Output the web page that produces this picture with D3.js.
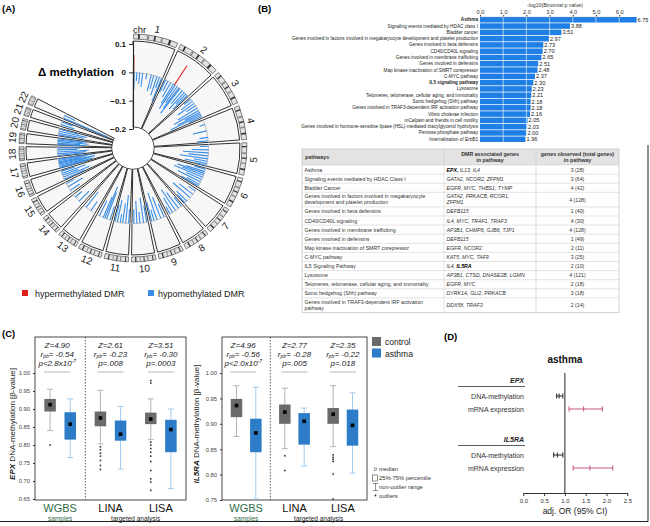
<!DOCTYPE html>
<html>
<head>
<meta charset="utf-8">
<title>DMR figure</title>
<script src="https://cdn.jsdelivr.net/npm/d3@7"></script>
<style>
  body { margin: 0; background: #fff; }
  svg { font-family: "Liberation Sans", Arial, sans-serif; display: block; }
  .tick line { stroke: #333; }
</style>
</head>
<body>
<script>
// ---------- data: panel A (circos) ----------
var chrNames   = ['1','2','3','4','5','6','7','8','9','10','11','12','13','14','15','16','17','18','19','20','21','22'];
var chrLengths = [249,243,198,191,181,171,159,146,141,136,135,134,115,107,103,90,81,78,59,63,48,51];
var circTicks  = [0.1, 0, -0.1, -0.2];
// ideogram dark bands, as fraction of chromosome length
var ideoBandStart = [0.10, 0.30, 0.46, 0.62, 0.80];
var ideoBandEnd   = [0.14, 0.35, 0.50, 0.66, 0.85];

// DMRs: chromosome, position (Mb), delta methylation
var dmrChr = [1,1,1,1,1,1,1,1,1,1,1,1,
  2,2,2,2,2,2,2,2,2,2,2,2,2,
  3,3,3,3,3,3,3,3,3,3,
  4,4,4,4,
  5,5,5,5,5,5,5,5,
  6,6,6,6,6,6,6,6,6,
  7,7,7,7,7,
  8,8,8,8,8,
  9,9,9,9,9,
  10,10,10,10,10,
  11,11,11,11,11,11,
  12,12,12,12,12,
  13,13, 14,14, 15,15,15,
  16,16,16,16,16,
  17,17,17,17,17,17,17,17,
  18,18,18,18,18,
  19,19,19,19,19,
  20,20,20,20,
  21,21, 22,22];
var dmrPos = [3,2,6,28,52,78,112,150,172,200,221,240,
  94,10,32,58,84,100,120,138,150,175,198,215,232,
  12,35,58,80,105,128,145,160,172,185,
  40,95,150,178,
  15,45,70,95,120,140,160,175,
  10,30,45,62,80,100,122,145,160,
  20,55,90,130,150,
  15,45,75,105,130,
  20,50,85,110,130,
  12,40,70,95,120,
  10,35,60,80,105,125,
  15,45,60,75,110,
  40,90, 35,80, 25,60,90,
  10,28,45,62,80,
  5,15,25,35,45,55,65,75,
  8,22,38,55,70,
  5,15,28,40,52,
  8,22,38,55,
  15,38, 8,30];
var dmrDelta = [0.06,-0.05,-0.06,-0.03,-0.04,-0.05,-0.02,-0.06,-0.05,-0.07,-0.04,-0.09,
  0.08,-0.05,-0.04,-0.06,-0.08,-0.10,-0.07,-0.09,-0.11,-0.06,-0.08,-0.05,-0.07,
  -0.03,-0.05,-0.07,-0.04,-0.08,-0.10,-0.06,-0.09,-0.12,-0.05,
  -0.02,-0.05,-0.03,-0.04,
  -0.03,-0.06,-0.09,-0.07,-0.10,-0.05,-0.08,-0.04,
  -0.04,-0.07,-0.10,-0.08,-0.11,-0.06,-0.09,-0.05,-0.07,
  -0.03,-0.06,-0.08,-0.05,-0.04,
  -0.04,-0.07,-0.09,-0.06,-0.03,
  -0.05,-0.08,-0.10,-0.04,-0.07,
  -0.06,-0.09,-0.04,-0.08,-0.05,
  -0.05,-0.10,-0.07,-0.03,-0.08,-0.06,
  -0.05,-0.10,-0.12,-0.08,-0.06,
  -0.04,-0.07, -0.05,-0.03, -0.04,-0.06,-0.03,
  -0.08,-0.10,-0.06,-0.09,-0.05,
  -0.10,-0.12,-0.09,-0.11,-0.13,-0.08,-0.10,-0.12,
  -0.09,-0.10,-0.11,-0.07,-0.08,
  -0.10,-0.08,-0.11,-0.09,-0.10,
  -0.06,-0.09,-0.10,-0.07,
  -0.05,-0.04, -0.17,-0.04];

// ---------- data: panel B ----------
var pathways = [
  'Asthma',
  'Signaling events mediated by HDAC class I',
  'Bladder cancer',
  'Genes involved in factors involved in megakaryocyte development and platelet production',
  'Genes involved in beta defensins',
  'CD40/CD40L signaling',
  'Genes involved in membrane trafficking',
  'Genes involved in defensins',
  'Map kinase inactivation of SMRT corepressor',
  'C-MYC pathway',
  'IL5 signaling pathway',
  'Lysosome',
  'Telomeres, telomerase, cellular aging, and immortality',
  'Sonic hedgehog (Shh) pathway',
  'Genes involved in TRAF3-dependent IRF activation pathway',
  'Vibrio cholerae infection',
  'mCalpain and friends in cell motility',
  'Genes involved in hormone-sensitive lipase (HSL)-mediated triacylglycerol hydrolysis',
  'Pentose phosphate pathway',
  'Internalization of ErbB1'
];
var pathwayLogP = [6.75,3.88,3.51,2.97,2.73,2.70,2.65,2.51,2.48,2.37,2.30,2.23,2.21,2.18,2.18,2.16,2.05,2.03,2.00,1.96];
var boldPathways = ['Asthma', 'IL5 signaling pathway'];
var logPTicks = [0,1,2,3,4,5,6];

var tablePathways = [
  'Asthma',
  'Signaling events mediated by HDAC Class I',
  'Bladder Cancer',
  'Genes involved in factors involved in megakaryocyte|development and platelet production',
  'Genes involved in beta defensins',
  'CD40/CD40L signaling',
  'Genes involved in membrane trafficking',
  'Genes involved in defensins',
  'Map kinase inactivation of SMRT corepressor',
  'C-MYC pathway',
  'IL5 Signaling Pathway',
  'Lysosome',
  'Telomeres, telomerase, cellular aging, and immortality',
  'Sonic hedgehog (Shh) pathway',
  'Genes involved in TRAF3-dependent IRF activation|pathway'
];
var tableGenes = [
  'EPX, IL13, IL4',
  'GATA2, NCOR2, ZFPM1',
  'EGFR, MYC, THBS1, TYMP',
  'GATA2, PRKACB, RCOR1,|ZFPM1',
  'DEFB115',
  'IL4, MYC, TRAF1, TRAF3',
  'AP3B1, CHMP6, GJB6, TJP1',
  'DEFB115',
  'EGFR, NCOR2',
  'KAT5, MYC, TAF9',
  'IL4, IL5RA',
  'AP3B1, CTSD, DNASE2B, LGMN',
  'EGFR, MYC',
  'DYRK1A, GLI2, PRKACB',
  'DDX58, TRAF3'
];
var tableCounts = ['3 (28)','3 (64)','4 (42)','4 (128)','1 (40)','4 (30)','4 (128)','1 (49)','2 (11)','3 (25)','2 (10)','4 (121)','2 (18)','3 (18)','2 (14)'];
var boldGenes = ['EPX', 'IL5RA'];

// ---------- data: panel C (box plots) ----------
var cohorts = ['WGBS', 'LINA', 'LISA'];
var statuses = ['control', 'asthma'];
// order: WGBS control, WGBS asthma, LINA control, LINA asthma, LISA control, LISA asthma
var epxLow  = [0.840, 0.765, 0.803, 0.733, 0.815, 0.679];
var epxQ1   = [0.893, 0.815, 0.852, 0.812, 0.858, 0.780];
var epxMed  = [0.912, 0.858, 0.875, 0.830, 0.872, 0.843];
var epxQ3   = [0.928, 0.891, 0.893, 0.868, 0.890, 0.870];
var epxHigh = [0.955, 0.928, 0.952, 0.907, 0.928, 0.900];
var epxOut  = [[0.800], [], [0.795,0.787,0.777,0.769,0.757,0.743,0.732], [],
               [0.979,0.972,0.808,0.800,0.790,0.780,0.769,0.754,0.729,0.706,0.697,0.674], []];
var epxTicks = [0.65,0.70,0.75,0.80,0.85,0.90,0.95,1.00];
var epxZ = ['4.90','2.61','3.51'];
var epxR = ['-0.54','-0.23','-0.30'];
var epxP = ['<2.8x10', '=.008', '=.0003'];
var epxPExp = ['-7', '', ''];

var il5Low  = [0.875, 0.752, 0.851, 0.817, 0.855, 0.803];
var il5Q1   = [0.913, 0.844, 0.900, 0.859, 0.900, 0.857];
var il5Med  = [0.936, 0.882, 0.923, 0.905, 0.919, 0.897];
var il5Q3   = [0.949, 0.910, 0.938, 0.921, 0.931, 0.928];
var il5High = [0.975, 0.972, 0.970, 0.931, 0.975, 0.961];
var il5Out  = [[], [], [0.837,0.808], [], [0.839,0.834,0.830,0.826,0.801,0.752], []];
var il5Ticks = [0.75,0.80,0.85,0.90,0.95,1.00];
var il5Z = ['4.96','2.77','2.35'];
var il5R = ['-0.56','-0.28','-0.22'];
var il5P = ['<2.0x10', '=.005', '=.018'];
var il5PExp = ['-7', '', ''];

// ---------- data: panel D (odds ratios) ----------
var orGenes = ['EPX', 'IL5RA'];
var orMeasures = ['DNA-methylation', 'mRNA expression'];
var orEst = [0.86, 1.45, 0.82, 1.60];
var orLo  = [0.80, 1.10, 0.73, 1.20];
var orHi  = [0.95, 1.90, 0.95, 2.15];
var orTicks = [0, 0.5, 1.0, 1.5, 2.0, 2.5];

var blueDMR = '#3a8de4', redDMR = '#e0201e';
var ctrlCol = '#6a6a6a', asthCol = '#2c7cc8';
var ctrlWh = '#b4b4b4', asthWh = '#a3cbee';

var svg = d3.select('body').append('svg').attr('width', 650).attr('height', 526);

function panelLabel(t, x, y) {
  svg.append('text').attr('x', x).attr('y', y).attr('font-size', 9.5)
    .attr('font-weight', 'bold').text(t);
}
panelLabel('(A)', 2, 12);
panelLabel('(B)', 258, 12);
panelLabel('(C)', 2, 337);
panelLabel('(D)', 444, 340);

// figure frame pieces
svg.append('line').attr('x1', 0).attr('x2', 648).attr('y1', 521.5).attr('y2', 521.5)
  .attr('stroke', '#222').attr('stroke-width', 1.2);
svg.append('line').attr('x1', 648).attr('x2', 648).attr('y1', 145).attr('y2', 521.5)
  .attr('stroke', '#222').attr('stroke-width', 1);

// ================= (A) circos =================
var cx = 133, cy = 148;
var gapDeg = 1.6, spanDeg = 297;
var degPerMb = (spanDeg - gapDeg * (chrLengths.length - 1)) / d3.sum(chrLengths);
var chrStart = [];
var acc = 0.3;
chrLengths.forEach(function(l) { chrStart.push(acc); acc += l * degPerMb + gapDeg; });
function ang(ci, pos) { return (chrStart[ci] + pos * degPerMb) * Math.PI / 180; }

var rScale = d3.scaleLinear().domain([-0.2, 0.1]).range([19, 104]);
var gA = svg.append('g').attr('transform', 'translate(' + cx + ',' + cy + ')');

var wedge = d3.arc().innerRadius(21).outerRadius(107);
gA.selectAll('.wedge').data(chrLengths).enter().append('path')
  .attr('class', 'wedge')
  .attr('d', function(l, i) { return wedge({startAngle: ang(i, 0), endAngle: ang(i, l)}); })
  .attr('fill', '#f7f7f7').attr('stroke', '#1a1a1a').attr('stroke-width', 0.9);

var zeroArc = d3.arc().innerRadius(rScale(0)).outerRadius(rScale(0));
gA.selectAll('.zero').data(chrLengths).enter().append('path')
  .attr('d', function(l, i) { return zeroArc({startAngle: ang(i, 0), endAngle: ang(i, l)}); })
  .attr('fill', 'none').attr('stroke', '#c9c9c9').attr('stroke-width', 0.8);

var ideo = d3.arc().innerRadius(109).outerRadius(114);
gA.selectAll('.ideo').data(chrLengths).enter().append('path')
  .attr('d', function(l, i) { return ideo({startAngle: ang(i, 0), endAngle: ang(i, l)}); })
  .attr('fill', '#e2e2e2').attr('stroke', '#333').attr('stroke-width', 0.6);
chrLengths.forEach(function(l, i) {
  ideoBandStart.forEach(function(s, b) {
    gA.append('path')
      .attr('d', ideo({startAngle: ang(i, l * s), endAngle: ang(i, l * ideoBandEnd[b])}))
      .attr('fill', b % 2 ? '#8a8a8a' : '#333');
  });
});

function polar(r, a) { return [r * Math.sin(a), -r * Math.cos(a)]; }
var dmrIdx = d3.range(dmrChr.length).sort(function(a, b) { return dmrDelta[a] - dmrDelta[b]; });
gA.selectAll('.dmr').data(dmrIdx).enter().append('line')
  .attr('x1', function(i) { return polar(rScale(0), ang(dmrChr[i] - 1, dmrPos[i]))[0]; })
  .attr('y1', function(i) { return polar(rScale(0), ang(dmrChr[i] - 1, dmrPos[i]))[1]; })
  .attr('x2', function(i) { return polar(rScale(dmrDelta[i]), ang(dmrChr[i] - 1, dmrPos[i]))[0]; })
  .attr('y2', function(i) { return polar(rScale(dmrDelta[i]), ang(dmrChr[i] - 1, dmrPos[i]))[1]; })
  .attr('stroke', function(i) { return dmrDelta[i] > 0 ? redDMR : blueDMR; })
  .attr('stroke-width', 1.1);

gA.append('circle').attr('r', 20.5).attr('fill', '#fff');

gA.selectAll('.chrlab').data(chrNames).enter().append('text')
  .attr('transform', function(n, i) {
    var mid = chrStart[i] + chrLengths[i] * degPerMb / 2;
    var p = polar(121, mid * Math.PI / 180);
    var rot = (mid > 95 && mid < 265) ? mid - 180 : mid;
    return 'translate(' + p[0] + ',' + p[1] + ') rotate(' + rot + ')';
  })
  .attr('text-anchor', 'middle').attr('dominant-baseline', 'central')
  .attr('font-size', 10).attr('fill', '#222').text(function(n) { return n; });

var yCirc = d3.scaleLinear().domain([-0.2, 0.1]).range([cy - rScale(-0.2), cy - rScale(0.1)]);
var axA = svg.append('g').attr('transform', 'translate(' + cx + ',0)')
  .call(d3.axisLeft(yCirc).tickValues(circTicks).tickSize(4).tickSizeOuter(0)
    .tickFormat(function(d) { return d === 0 ? '0' : d3.format('.1f')(d); }));
axA.select('.domain').attr('stroke', '#222').attr('stroke-width', 1.1);
axA.selectAll('text').attr('font-size', 8).attr('font-weight', 'bold').attr('fill', '#111');
svg.append('line').attr('x1', cx).attr('x2', cx).attr('y1', cy - 107).attr('y2', cy - rScale(0.1))
  .attr('stroke', '#222').attr('stroke-width', 1.1);
svg.append('text').attr('x', 133).attr('y', 33).attr('font-size', 9.5).attr('fill', '#222').text('chr');
svg.append('text').attr('x', 38).attr('y', 76).attr('font-size', 11.5).attr('font-weight', 'bold')
  .text('\u0394 methylation');

// legend
svg.append('rect').attr('x', 22).attr('y', 290).attr('width', 6).attr('height', 6).attr('fill', redDMR);
svg.append('text').attr('x', 35).attr('y', 296.5).attr('font-size', 9).attr('fill', '#222').text('hypermethylated DMR');
svg.append('rect').attr('x', 148).attr('y', 290).attr('width', 6).attr('height', 6).attr('fill', blueDMR);
svg.append('text').attr('x', 158).attr('y', 296.5).attr('font-size', 9).attr('fill', '#222').text('hypomethylated DMR');

// ================= (B) bar chart =================
var xB = d3.scaleLinear().domain([0, 6]).range([480, 619.2]);
var yB = d3.scaleBand().domain(pathways).range([17, 142]).paddingInner(0.12);
var gB = svg.append('g');
gB.selectAll('.bar').data(pathways).enter().append('rect')
  .attr('x', xB(0)).attr('y', function(d) { return yB(d); })
  .attr('width', function(d, i) { return xB(pathwayLogP[i]) - xB(0); })
  .attr('height', yB.bandwidth()).attr('fill', '#1f7fe6');
gB.selectAll('.grid').data(logPTicks.slice(1)).enter().append('line')
  .attr('x1', function(d) { return xB(d); }).attr('x2', function(d) { return xB(d); })
  .attr('y1', 17).attr('y2', 142).attr('stroke', '#fff').attr('stroke-width', 0.6);
gB.selectAll('.val').data(pathways).enter().append('text')
  .attr('x', function(d, i) { return xB(pathwayLogP[i]) + 1; })
  .attr('y', function(d) { return yB(d) + yB.bandwidth() / 2; })
  .attr('dominant-baseline', 'central').attr('font-size', 5.6).attr('fill', '#222')
  .text(function(d, i) { return d3.format('.2f')(pathwayLogP[i]); });
gB.selectAll('.lab').data(pathways).enter().append('text')
  .attr('x', 478).attr('y', function(d) { return yB(d) + yB.bandwidth() / 2; })
  .attr('text-anchor', 'end').attr('dominant-baseline', 'central').attr('font-size', 4.7)
  .attr('font-weight', function(d) { return boldPathways.indexOf(d) >= 0 ? 'bold' : 'normal'; })
  .attr('fill', '#222').text(function(d) { return d; });
var axB = svg.append('g').attr('transform', 'translate(0,16.5)')
  .call(d3.axisTop(xB).tickValues(logPTicks).tickSize(1.5).tickSizeOuter(0).tickPadding(1));
axB.select('.domain').attr('stroke', '#999').attr('stroke-width', 0.4);
axB.selectAll('text').attr('font-size', 5.6).attr('fill', '#333');
svg.append('text').attr('x', 555).attr('y', 7).attr('text-anchor', 'middle').attr('font-size', 5.2)
  .attr('fill', '#333').text('-log10(Binomial p value)');

// ================= (B) table =================
var tx = [302, 444, 536, 619];
var gT = svg.append('g');
var headH = 16, lineH = 9.1;
var rowH = tablePathways.map(function(p, i) {
  return (p.indexOf('|') >= 0 || tableGenes[i].indexOf('|') >= 0) ? 14.6 : lineH;
});
var rowY = [149 + headH];
rowH.forEach(function(h, i) { rowY.push(rowY[i] + h); });
var tBottom = rowY[rowY.length - 1];
gT.append('rect').attr('x', tx[0]).attr('y', 149).attr('width', tx[3] - tx[0]).attr('height', headH)
  .attr('fill', '#e3e3e3');
gT.append('rect').attr('x', tx[0]).attr('y', 149).attr('width', tx[3] - tx[0]).attr('height', tBottom - 149)
  .attr('fill', 'none').attr('stroke', '#b8b8b8').attr('stroke-width', 0.6);
gT.selectAll('.hl').data(rowY.slice(0, -1)).enter().append('line')
  .attr('x1', tx[0]).attr('x2', tx[3]).attr('y1', function(d) { return d; }).attr('y2', function(d) { return d; })
  .attr('stroke', '#c6c6c6').attr('stroke-width', 0.5);
gT.selectAll('.vl').data([tx[1], tx[2]]).enter().append('line')
  .attr('x1', function(d) { return d; }).attr('x2', function(d) { return d; })
  .attr('y1', 149).attr('y2', tBottom).attr('stroke', '#c6c6c6').attr('stroke-width', 0.5);

function headText(x, y, t, anchor) {
  gT.append('text').attr('x', x).attr('y', y).attr('text-anchor', anchor || 'middle')
    .attr('font-size', 5.3).attr('font-weight', 'bold').attr('fill', '#333').text(t);
}
headText(305, 159, 'pathways', 'start');
headText(490, 155.5, 'DMR associated genes');
headText(490, 162, 'in pathway');
headText(577.5, 155.5, 'genes observed (total genes)');
headText(577.5, 162, 'in pathway');

tablePathways.forEach(function(p, i) {
  var top = rowY[i], h = rowH[i];
  var pl = p.split('|');
  var y0 = pl.length > 1 ? top + 6 : top + h / 2 + 2;
  pl.forEach(function(t, k) {
    gT.append('text').attr('x', 304.5).attr('y', y0 + k * 5.8).attr('font-size', 5.2)
      .attr('fill', '#333').text(t);
  });
  var gl = tableGenes[i].split('|');
  var g0 = gl.length > 1 ? top + 6 : top + h / 2 + 2;
  gl.forEach(function(line, k) {
    var t = gT.append('text').attr('x', 446.5).attr('y', g0 + k * 5.8).attr('font-size', 5.2)
      .attr('font-style', 'italic').attr('fill', '#333');
    line.split(' ').forEach(function(w) {
      var bare = w.replace(',', '');
      t.append('tspan').attr('font-weight', boldGenes.indexOf(bare) >= 0 ? 'bold' : 'normal')
        .attr('fill', boldGenes.indexOf(bare) >= 0 ? '#000' : '#333').text(w + ' ');
    });
  });
  gT.append('text').attr('x', 577.5).attr('y', top + h / 2 + 2).attr('text-anchor', 'middle')
    .attr('font-size', 5.2).attr('fill', '#333').text(tableCounts[i]);
});

// ================= (C) box plots =================
function drawBoxes(o) {
  var g = svg.append('g');
  var y = d3.scaleLinear().domain(o.domain).range([o.bottom, 373]);
  var xG = d3.scaleBand().domain(cohorts).range([o.x0, o.x1]);
  var xS = d3.scaleBand().domain(statuses).range([0, xG.bandwidth()]).paddingInner(0.5).paddingOuter(0.5);
  var bw = 11.5;
  g.append('rect').attr('x', o.x0).attr('y', 337).attr('width', o.x1 - o.x0).attr('height', 500 - 337)
    .attr('fill', 'none').attr('stroke', '#333').attr('stroke-width', 0.9);
  g.append('line').attr('x1', xG('LINA')).attr('x2', xG('LINA')).attr('y1', 337).attr('y2', 500)
    .attr('stroke', '#333').attr('stroke-width', 0.8).attr('stroke-dasharray', '1.5,1.5');
  var ax = g.append('g').attr('transform', 'translate(' + o.x0 + ',0)')
    .call(d3.axisLeft(y).tickValues(o.ticks).tickSize(2).tickFormat(d3.format('.2f')));
  ax.select('.domain').remove();
  ax.selectAll('text').attr('font-size', 5.8).attr('fill', '#444');
  ax.selectAll('line').attr('stroke', '#666');

  d3.range(6).forEach(function(k) {
    var cohort = cohorts[Math.floor(k / 2)], st = statuses[k % 2];
    var cxB = xG(cohort) + xS(st) + xS.bandwidth() / 2;
    var wc = k % 2 ? asthWh : ctrlWh;
    g.append('line').attr('x1', cxB).attr('x2', cxB).attr('y1', y(o.low[k])).attr('y2', y(o.high[k]))
      .attr('stroke', wc).attr('stroke-width', 1);
    [o.low[k], o.high[k]].forEach(function(v) {
      g.append('line').attr('x1', cxB - 3).attr('x2', cxB + 3).attr('y1', y(v)).attr('y2', y(v))
        .attr('stroke', wc).attr('stroke-width', 1);
    });
    g.append('rect').attr('x', cxB - bw / 2).attr('y', y(o.q3[k])).attr('width', bw)
      .attr('height', y(o.q1[k]) - y(o.q3[k])).attr('fill', k % 2 ? asthCol : ctrlCol);
    g.append('rect').attr('x', cxB - 1.8).attr('y', y(o.med[k]) - 1.8).attr('width', 3.6).attr('height', 3.6)
      .attr('fill', '#000');
    g.selectAll(null).data(o.out[k]).enter().append('rect')
      .attr('x', cxB - 0.8).attr('y', function(v) { return y(v) - 0.8; })
      .attr('width', 1.6).attr('height', 1.6).attr('fill', '#333');
  });

  cohorts.forEach(function(c, i) {
    var mx = xG(c) + xG.bandwidth() / 2 - (i === 0 ? 3 : 0);
    g.append('text').attr('x', mx).attr('y', 348).attr('text-anchor', 'middle').attr('font-size', 8)
      .attr('font-style', 'italic').attr('fill', '#222').text('Z=' + o.z[i]);
    var r = g.append('text').attr('x', mx).attr('y', 357).attr('text-anchor', 'middle').attr('font-size', 8)
      .attr('font-style', 'italic').attr('fill', '#222');
    r.append('tspan').text('r');
    r.append('tspan').attr('font-size', 5).attr('dy', 1.2).text('pb');
    r.append('tspan').attr('dy', -1.2).text('= ' + o.r[i]);
    var p = g.append('text').attr('x', mx).attr('y', 366).attr('text-anchor', 'middle').attr('font-size', 8)
      .attr('font-style', 'italic').attr('fill', '#222');
    p.append('tspan').text('p' + o.p[i]);
    if (o.pexp[i]) p.append('tspan').attr('font-size', 4.8).attr('dy', -2.6).text(o.pexp[i]);
    g.append('line').attr('x1', mx - 13).attr('x2', mx + 13).attr('y1', 372).attr('y2', 372)
      .attr('stroke', '#888').attr('stroke-width', 0.6);
    g.append('text').attr('x', xG(c) + xG.bandwidth() / 2).attr('y', 512).attr('text-anchor', 'middle')
      .attr('font-size', 11).attr('fill', i === 0 ? '#2e6b48' : '#111').text(c);
  });
  g.append('text').attr('x', xG('WGBS') + xG.bandwidth() / 2).attr('y', 520.5).attr('text-anchor', 'middle')
    .attr('font-size', 6.5).attr('fill', '#2e6b48').text('samples');
  g.append('text').attr('x', xG('LISA')).attr('y', 520.5).attr('text-anchor', 'middle')
    .attr('font-size', 6.5).attr('fill', '#222').text('targeted analysis');

  var lab = g.append('text').attr('transform', 'translate(' + o.labX + ',424) rotate(-90)')
    .attr('text-anchor', 'middle').attr('font-size', 8).attr('fill', '#222');
  lab.append('tspan').attr('font-weight', 'bold').attr('font-style', 'italic').text(o.gene);
  lab.append('tspan').text(' DNA-methylation [\u03b2-value]');
}

drawBoxes({x0: 35, x1: 186, bottom: 499, domain: [0.65, 1.0], ticks: epxTicks,
  low: epxLow, q1: epxQ1, med: epxMed, q3: epxQ3, high: epxHigh, out: epxOut,
  z: epxZ, r: epxR, p: epxP, pexp: epxPExp, gene: 'EPX', labX: 15});
drawBoxes({x0: 222, x1: 367, bottom: 500, domain: [0.75, 1.0], ticks: il5Ticks,
  low: il5Low, q1: il5Q1, med: il5Med, q3: il5Q3, high: il5High, out: il5Out,
  z: il5Z, r: il5R, p: il5P, pexp: il5PExp, gene: 'IL5RA', labX: 199});

// legends of panel C
[[ctrlCol, 'control', 337], [asthCol, 'asthma', 348.5]].forEach(function(l) {
  svg.append('rect').attr('x', 372).attr('y', l[2]).attr('width', 9).attr('height', 9).attr('fill', l[0]);
  svg.append('text').attr('x', 385).attr('y', l[2] + 8).attr('font-size', 8.5).attr('fill', '#222').text(l[1]);
});
var lg = svg.append('g').attr('font-size', 5.8).attr('fill', '#333');
lg.append('rect').attr('x', 374.2).attr('y', 468).attr('width', 2.4).attr('height', 2.4)
  .attr('fill', 'none').attr('stroke', '#444').attr('stroke-width', 0.5);
lg.append('text').attr('x', 379).attr('y', 471).text('median');
lg.append('rect').attr('x', 372.5).attr('y', 475).attr('width', 5).attr('height', 6)
  .attr('fill', 'none').attr('stroke', '#444').attr('stroke-width', 0.6);
lg.append('text').attr('x', 379).attr('y', 480).text('25%-75% percentile');
lg.append('path').attr('d', 'M373,483.5H378M375.5,483.5V490.5M373,490.5H378')
  .attr('fill', 'none').attr('stroke', '#444').attr('stroke-width', 0.6);
lg.append('text').attr('x', 379).attr('y', 489).text('non-outlier range');
lg.append('circle').attr('cx', 375.5).attr('cy', 495.5).attr('r', 0.9).attr('fill', '#222');
lg.append('text').attr('x', 379).attr('y', 497.5).text('outliers');

// ================= (D) forest plot =================
var xD = d3.scaleLinear().domain([0, 2.5]).range([523.3, 627.3]);
var gD = svg.append('g');
gD.append('text').attr('x', xD(1)).attr('y', 363).attr('text-anchor', 'middle').attr('font-size', 10)
  .attr('font-weight', 'bold').attr('fill', '#111').text('asthma');
gD.append('line').attr('x1', xD(1)).attr('x2', xD(1)).attr('y1', 373).attr('y2', 493)
  .attr('stroke', '#222').attr('stroke-width', 1);
var axD = gD.append('g').attr('transform', 'translate(0,493)')
  .call(d3.axisBottom(xD).tickValues(orTicks).tickSize(3).tickSizeOuter(0).tickFormat(d3.format('.1f')));
axD.select('.domain').attr('stroke', '#333');
axD.selectAll('text').attr('font-size', 6).attr('fill', '#333');
gD.append('text').attr('x', 575).attr('y', 514).attr('text-anchor', 'middle').attr('font-size', 8.5)
  .attr('fill', '#222').text('adj. OR (95% CI)');

var geneY = [383, 442];
orGenes.forEach(function(gname, gi) {
  var gy = geneY[gi];
  gD.append('text').attr('x', 524).attr('y', gy).attr('text-anchor', 'end').attr('font-size', 7)
    .attr('font-weight', 'bold').attr('font-style', 'italic').attr('fill', '#222').text(gname);
  gD.append('line').attr('x1', 458).attr('x2', 525).attr('y1', gy + 3.5).attr('y2', gy + 3.5)
    .attr('stroke', '#333').attr('stroke-width', 0.8);
  orMeasures.forEach(function(m, mi) {
    var k = gi * 2 + mi, ry = gy + 13 + mi * 13;
    var col = mi === 0 ? '#333' : '#c65b8c';
    gD.append('text').attr('x', 524).attr('y', ry + 2.5).attr('text-anchor', 'end').attr('font-size', 7)
      .attr('fill', '#333').text(m);
    gD.append('line').attr('x1', xD(orLo[k])).attr('x2', xD(orHi[k])).attr('y1', ry).attr('y2', ry)
      .attr('stroke', col).attr('stroke-width', 1.1);
    [orLo[k], orEst[k], orHi[k]].forEach(function(v) {
      gD.append('line').attr('x1', xD(v)).attr('x2', xD(v)).attr('y1', ry - 2.5).attr('y2', ry + 2.5)
        .attr('stroke', col).attr('stroke-width', 1.1);
    });
  });
});
</script>
</body>
</html>
